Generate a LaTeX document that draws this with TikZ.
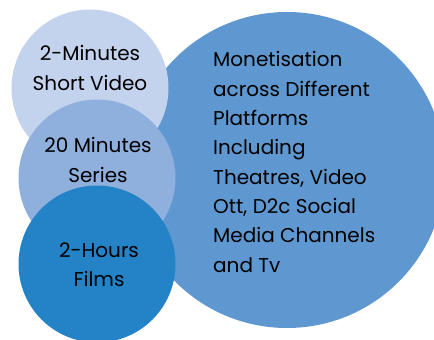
\documentclass[tikz,border=0pt]{standalone}
\usepackage{fontspec}
\setmainfont{Poppins}
\usetikzlibrary{positioning}
\definecolor{paleblue}{RGB}{195,211,238}
\definecolor{midblue}{RGB}{143,176,221}
\definecolor{bigblue}{RGB}{95,152,208}
\definecolor{deepblue}{RGB}{36,131,198}
\tikzset{
  every picture/.style={x=1pt, y=-1pt},
  bubble/.style={circle, inner sep=0pt, minimum size=157pt},
  big/.style={circle, inner sep=0pt, minimum size=316pt, fill=bigblue},
  caption/.style={font=\fontsize{20}{29.3}\selectfont, text=black, inner sep=0pt, align=center},
  body/.style={caption, align=left, anchor=north west},
}

\begin{document}
\begin{tikzpicture}
  \useasboundingbox (0,0) rectangle (434,340);
  \clip (0,0) rectangle (434,340);
  % back circle with the platforms text
  \node[big] (platforms) at (287,170) {};
  \node[bubble, fill=paleblue] (shortvid) at (90,88) {};
  \node[bubble, fill=midblue] (series) at (97,178) {};
  \node[bubble, fill=deepblue] (films) at (97,264) {};
  % captions
  \node[caption] (shortlbl) at (90,68) {2-Minutes\\Short Video};
  \node[caption] (serieslbl) at (98,160) {20 Minutes\\Series};
  \node[caption] (filmslbl) at (99,265) {2-Hours\\Films};
  \node[body] (platformlbl) at (213,51.5) {Monetisation\\across Different\\Platforms\\Including\\Theatres, Video\\Ott, D2c Social\\Media Channels\\and Tv};
\end{tikzpicture}
\end{document}
